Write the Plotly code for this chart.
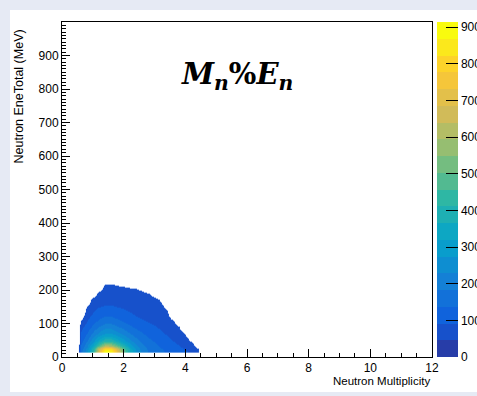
import plotly.graph_objects as go

# ---------------- data ----------------
mult_nodes = [0.5, 0.6, 0.8, 1.0, 1.2, 1.4, 1.6, 1.8, 2.0, 2.2, 2.4, 2.6,
              2.8, 3.0, 3.2, 3.4, 3.6, 3.8, 4.0, 4.2, 4.4, 4.5]
ene_nodes = [13, 17, 25, 35, 50, 70, 90, 110, 130, 150, 170, 190, 210, 230]
counts = [
    [0]*22,
    [0, 170, 260, 420, 700, 905, 890, 700, 500, 360, 270, 215, 180, 160, 145, 132, 120, 108, 96, 82, 62, 0],
    [0, 160, 245, 390, 640, 820, 810, 640, 470, 345, 262, 210, 176, 155, 140, 127, 113, 101, 89, 76, 46, 0],
    [0, 145, 220, 330, 480, 600, 590, 480, 390, 300, 238, 195, 165, 146, 130, 117, 104, 92, 80, 66, 20, 0],
    [0, 120, 180, 260, 340, 400, 400, 340, 290, 240, 200, 170, 148, 132, 116, 103, 91, 81, 68, 36, 0, 0],
    [0, 98, 140, 195, 245, 280, 280, 245, 215, 185, 160, 142, 126, 112, 98, 88, 78, 68, 43, 0, 0, 0],
    [0, 78, 110, 150, 185, 210, 210, 185, 165, 145, 128, 116, 104, 94, 84, 76, 67, 46, 0, 0, 0, 0],
    [0, 50, 90, 118, 145, 160, 160, 145, 130, 116, 104, 95, 88, 81, 73, 66, 51, 0, 0, 0, 0, 0],
    [0, 0, 72, 95, 115, 125, 125, 112, 104, 95, 86, 80, 76, 71, 64, 58, 0, 0, 0, 0, 0, 0],
    [0, 0, 51, 80, 90, 95, 95, 90, 86, 80, 75, 70, 67, 63, 58, 33, 0, 0, 0, 0, 0, 0],
    [0, 0, 0, 70, 76, 80, 80, 76, 74, 70, 67, 64, 60, 58, 40, 0, 0, 0, 0, 0, 0, 0],
    [0, 0, 0, 0, 70, 72, 72, 68, 66, 64, 60, 57, 51, 30, 0, 0, 0, 0, 0, 0, 0, 0],
    [0, 0, 0, 0, 0, 65, 76, 54, 46, 42, 40, 30, 0, 0, 0, 0, 0, 0, 0, 0, 0, 0],
    [0]*22,
]
z_max = 914
n_levels = 20
x_ticks = [0, 2, 4, 6, 8, 10, 12]
y_ticks = [0, 100, 200, 300, 400, 500, 600, 700, 800, 900]
cb_ticks = [0, 100, 200, 300, 400, 500, 600, 700, 800, 900]

# ---------------- style: ROOT kBird palette, 20 contour bands ----------------
stops = [0.0, 0.125, 0.25, 0.375, 0.5, 0.625, 0.75, 0.875, 1.0]
red = [0.2082, 0.0592, 0.0780, 0.0232, 0.1802, 0.5301, 0.8186, 0.9956, 0.9764]
green = [0.1664, 0.3599, 0.5041, 0.6419, 0.7178, 0.7492, 0.7328, 0.7862, 0.9832]
blue = [0.5293, 0.8684, 0.8385, 0.7914, 0.6425, 0.4662, 0.3499, 0.1968, 0.0539]


def bird(t):
    for k in range(len(stops) - 1):
        if t <= stops[k + 1]:
            f = (t - stops[k]) / (stops[k + 1] - stops[k])
            return "rgb(%d,%d,%d)" % tuple(
                round(255 * (c[k] + f * (c[k + 1] - c[k]))) for c in (red, green, blue))
    return "rgb(%d,%d,%d)" % tuple(round(255 * c[-1]) for c in (red, green, blue))


# ROOT picks palette entry int((i + 0.99) * 255 / ndivz) of a 255-colour palette
band_colors = [bird(int((i + 0.99) * 255 / n_levels) / 254) for i in range(n_levels)]
full_scale, data_scale = [], []
for i, c in enumerate(band_colors):
    a, b = i / n_levels, (i + 1) / n_levels
    full_scale += [[a, c], [b, c]]
    dc = "rgba(255,255,255,0)" if i == 0 else c
    data_scale += [[a, dc], [b, dc]]

FONT = "Liberation Sans, Arial, Helvetica, sans-serif"

fig = go.Figure()
fig.add_trace(go.Heatmap(
    x=mult_nodes, y=ene_nodes, z=counts, zmin=0, zmax=z_max,
    zsmooth="best", colorscale=data_scale, showscale=False, hoverinfo="skip"))
fig.add_trace(go.Scatter(
    x=[-10], y=[-10], mode="markers", hoverinfo="skip", showlegend=False,
    marker=dict(size=1, color=[0], cmin=0, cmax=z_max, colorscale=full_scale,
                showscale=True,
                colorbar=dict(x=1.0135, xanchor="left", xpad=0, y=0.5, yanchor="middle",
                              len=1, lenmode="fraction", ypad=0, thickness=21,
                              outlinewidth=0, tickvals=cb_ticks, ticks="inside",
                              ticklen=12, tickcolor="black", tickwidth=1,
                              tickfont=dict(family=FONT, size=12, color="black")))))

axis_common = dict(showline=True, linecolor="black", linewidth=1, mirror=True,
                   ticks="inside", tickcolor="black", tickwidth=1, ticklen=8,
                   showgrid=False, zeroline=False,
                   tickfont=dict(family=FONT, size=12, color="black"))
fig.update_xaxes(range=[0, 12], tickvals=x_ticks, **axis_common,
                 minor=dict(dtick=0.5, ticks="inside", ticklen=4, tickcolor="black"))
fig.update_yaxes(range=[0, 1000], tickvals=y_ticks, **axis_common,
                 minor=dict(dtick=10, ticks="inside", ticklen=4, tickcolor="black"))

fig.add_annotation(text="Neutron Multiplicity", xref="paper", yref="paper",
                   x=1, y=-0.0716, xanchor="right", yanchor="middle", showarrow=False,
                   font=dict(family=FONT, size=11.5, color="black"))
fig.add_annotation(text="Neutron EneTotal (MeV)", xref="paper", yref="paper",
                   x=-0.116, y=0.984, xanchor="center", yanchor="top", textangle=-90,
                   showarrow=False, font=dict(family=FONT, size=12.5, color="black"))
fig.add_annotation(text="<b><i>M<sub>n</sub></i>%<i>E<sub>n</sub></i></b>",
                   xref="paper", yref="paper", x=0.474, y=0.84, showarrow=False,
                   xanchor="center", yanchor="middle",
                   font=dict(family="DejaVu Serif, serif", size=29, color="black"))

# white page over light frame
fig.add_shape(type="rect", xref="paper", yref="paper", x0=-0.1405, x1=1.13,
              y0=-0.1045, y1=1.0358, fillcolor="white", line_width=0, layer="below")

fig.update_layout(width=477, height=396,
                  margin=dict(l=62, r=45, t=22, b=39, autoexpand=False),
                  paper_bgcolor="#e6eaf4", plot_bgcolor="white",
                  showlegend=False)
fig.write_html("out.html")
